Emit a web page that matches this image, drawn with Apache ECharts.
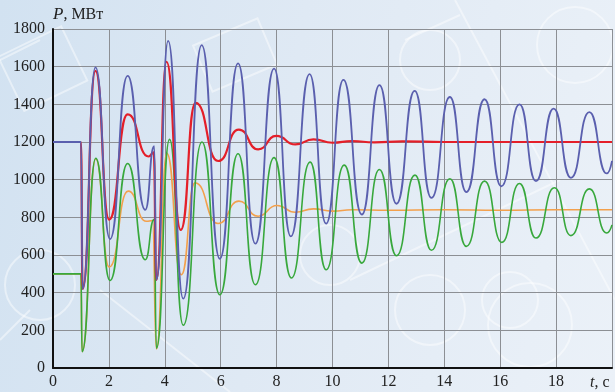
<!DOCTYPE html>
<html>
<head>
<meta charset="utf-8">
<script src="https://cdn.jsdelivr.net/npm/echarts@6/dist/echarts.min.js"></script>
<style>
  html, body { margin: 0; padding: 0; }
  body { background: linear-gradient(100deg, #d2e2f1 0%, #dfe9f4 45%, #ebf1f8 100%); }
  #chart { width: 615px; height: 392px; }
</style>
</head>
<body>
<div id="chart"></div>
<script>
// axis ticks
const xTicks = [0, 2, 4, 6, 8, 10, 12, 14, 16, 18, 20];
const yTicks = [0, 200, 400, 600, 800, 1000, 1200, 1400, 1600, 1800];

// [t, P] — peaks / troughs
const bluePts = [
  [0, 1200], [1.0, 1200], [1.06, 420], [1.52, 1596], [2.04, 685], [2.67, 1551],
  [3.3, 840], [3.62, 1178], [3.7, 468], [4.12, 1737], [4.66, 368], [5.32, 1714],
  [5.97, 580], [6.62, 1617], [7.24, 660], [7.91, 1590], [8.51, 699], [9.18, 1560],
  [9.77, 767], [10.39, 1530], [11.05, 815], [11.68, 1502], [12.29, 872], [12.94, 1471],
  [13.54, 903], [14.2, 1439], [14.79, 934], [15.44, 1427], [16.04, 965], [16.69, 1400],
  [17.28, 992], [17.91, 1377], [18.53, 1010], [19.19, 1359], [19.81, 1033], [20, 1100]
];
const redPts = [
  [0, 1200], [1.0, 1200], [1.06, 420], [1.52, 1578], [2.01, 788], [2.67, 1347],
  [3.42, 1123], [3.6, 1145], [3.7, 468], [4.06, 1626], [4.57, 733], [5.1, 1408],
  [5.91, 1099], [6.65, 1266], [7.34, 1161], [7.99, 1232], [8.67, 1187], [9.32, 1214],
  [10.0, 1196], [10.7, 1205], [11.5, 1198], [12.5, 1203], [14, 1200], [16, 1200], [18, 1200], [20, 1200]
];
const greenPts = [
  [0, 500], [1.0, 500], [1.04, 87], [1.53, 1114], [2.04, 465], [2.67, 1086],
  [3.3, 575], [3.62, 790], [3.7, 105], [4.17, 1214], [4.66, 227], [5.33, 1200],
  [5.97, 389], [6.62, 1138], [7.24, 442], [7.91, 1117], [8.53, 478], [9.2, 1093],
  [9.77, 522], [10.42, 1077], [11.05, 557], [11.68, 1054], [12.29, 596], [12.95, 1024],
  [13.54, 625], [14.2, 1005], [14.79, 646], [15.44, 992], [16.06, 667], [16.69, 980],
  [17.28, 690], [17.94, 957], [18.53, 703], [19.19, 951], [19.81, 717], [20, 760]
];
const orangePts = [
  [0, 500], [1.0, 500], [1.04, 87], [1.53, 1110], [2.01, 536], [2.69, 939],
  [3.34, 779], [3.56, 783], [3.7, 101], [4.07, 1140], [4.59, 495], [5.08, 983],
  [5.91, 767], [6.65, 886], [7.34, 806], [8.01, 863], [8.67, 827], [9.32, 845],
  [10.0, 833], [10.7, 840], [12, 838], [14, 840], [16, 838], [18, 840], [20, 840]
];

const serif = 'Liberation Serif';

const chart = echarts.init(document.getElementById('chart'));

const line = (name, pts, color, width) => ({
  name,
  type: 'line',
  data: pts,
  showSymbol: false,
  smooth: 0.55,
  smoothMonotone: 'x',
  lineStyle: { color, width },
  silent: true,
  animation: false
});

const wm = 'rgba(255,255,255,0.45)';

chart.setOption({
  backgroundColor: 'transparent',
  animation: false,
  grid: { left: 53, right: 0, top: 29, bottom: 24 },
  xAxis: {
    type: 'value',
    min: xTicks[0],
    max: xTicks[xTicks.length - 1],
    interval: 2,
    axisLine: { show: true, onZero: false, lineStyle: { color: '#111', width: 2 } },
    axisTick: { show: false },
    axisLabel: {
      color: '#222', fontFamily: serif, fontSize: 16, margin: 6,
      formatter: v => (v === 20 ? '' : String(v))
    },
    splitLine: { show: true, lineStyle: { color: '#8c8f94', width: 1 } }
  },
  yAxis: {
    type: 'value',
    min: yTicks[0],
    max: yTicks[yTicks.length - 1],
    interval: 200,
    axisLine: { show: true, lineStyle: { color: '#111', width: 2 } },
    axisTick: { show: false },
    axisLabel: { color: '#222', fontFamily: serif, fontSize: 16, margin: 8, formatter: v => String(v) },
    splitLine: { show: true, lineStyle: { color: '#8c8f94', width: 1 } }
  },
  graphic: [
    // faint watermark sketch in the background
    {
      type: 'group', z: -10, silent: true,
      children: [
        { type: 'rect', shape: { x: 8, y: 40, width: 70, height: 60 }, rotation: 0.45, originX: 40, originY: 70,
          style: { fill: 'none', stroke: wm, lineWidth: 2 } },
        { type: 'rect', shape: { x: 200, y: 30, width: 70, height: 50 }, rotation: 0.4, originX: 235, originY: 55,
          style: { fill: 'none', stroke: wm, lineWidth: 2 } },
        { type: 'circle', shape: { cx: 575, cy: 45, r: 38 }, style: { fill: 'none', stroke: wm, lineWidth: 2 } },
        { type: 'circle', shape: { cx: 430, cy: 60, r: 30 }, style: { fill: 'none', stroke: wm, lineWidth: 2 } },
        { type: 'circle', shape: { cx: 430, cy: 310, r: 35 }, style: { fill: 'none', stroke: wm, lineWidth: 2 } },
        { type: 'circle', shape: { cx: 530, cy: 325, r: 42 }, style: { fill: 'none', stroke: wm, lineWidth: 2 } },
        { type: 'circle', shape: { cx: 510, cy: 300, r: 28 }, style: { fill: 'none', stroke: wm, lineWidth: 2 } },
        { type: 'circle', shape: { cx: 40, cy: 285, r: 35 }, style: { fill: 'none', stroke: wm, lineWidth: 2 } },
        { type: 'circle', shape: { cx: 330, cy: 255, r: 30 }, style: { fill: 'none', stroke: wm, lineWidth: 2 } },
        { type: 'line', shape: { x1: 455, y1: 0, x2: 615, y2: 300 }, style: { stroke: wm, lineWidth: 2 } },
        { type: 'line', shape: { x1: 100, y1: 290, x2: 230, y2: 392 }, style: { stroke: wm, lineWidth: 2 } },
        { type: 'line', shape: { x1: 405, y1: 40, x2: 460, y2: 15 }, style: { stroke: wm, lineWidth: 2 } },
        { type: 'line', shape: { x1: 0, y1: 60, x2: 40, y2: 40 }, style: { stroke: wm, lineWidth: 2 } },
        { type: 'line', shape: { x1: 350, y1: 280, x2: 560, y2: 180 }, style: { stroke: wm, lineWidth: 2 } },
        { type: 'line', shape: { x1: 0, y1: 340, x2: 30, y2: 310 }, style: { stroke: wm, lineWidth: 2 } }
      ]
    },
    {
      type: 'text', left: 53, top: 6, silent: true,
      style: {
        text: '{i|P}, МВт',
        fill: '#222',
        fontFamily: serif,
        fontSize: 16,
        rich: { i: { fontStyle: 'italic', fontFamily: serif, fontSize: 17, fill: '#222' } }
      }
    },
    {
      type: 'text', left: 590, top: 375, silent: true,
      style: {
        text: '{i|t}, c',
        fill: '#222',
        fontFamily: serif,
        fontSize: 16,
        rich: { i: { fontStyle: 'italic', fontFamily: serif, fontSize: 16, fill: '#222' } }
      }
    }
  ],
  series: [
    line('orange', orangePts, '#f3a04c', 1.6),
    line('green', greenPts, '#38a83c', 1.6),
    line('red', redPts, '#e41f29', 2.2),
    line('blue', bluePts, '#5a5fae', 1.8)
  ]
});
</script>
</body>
</html>
